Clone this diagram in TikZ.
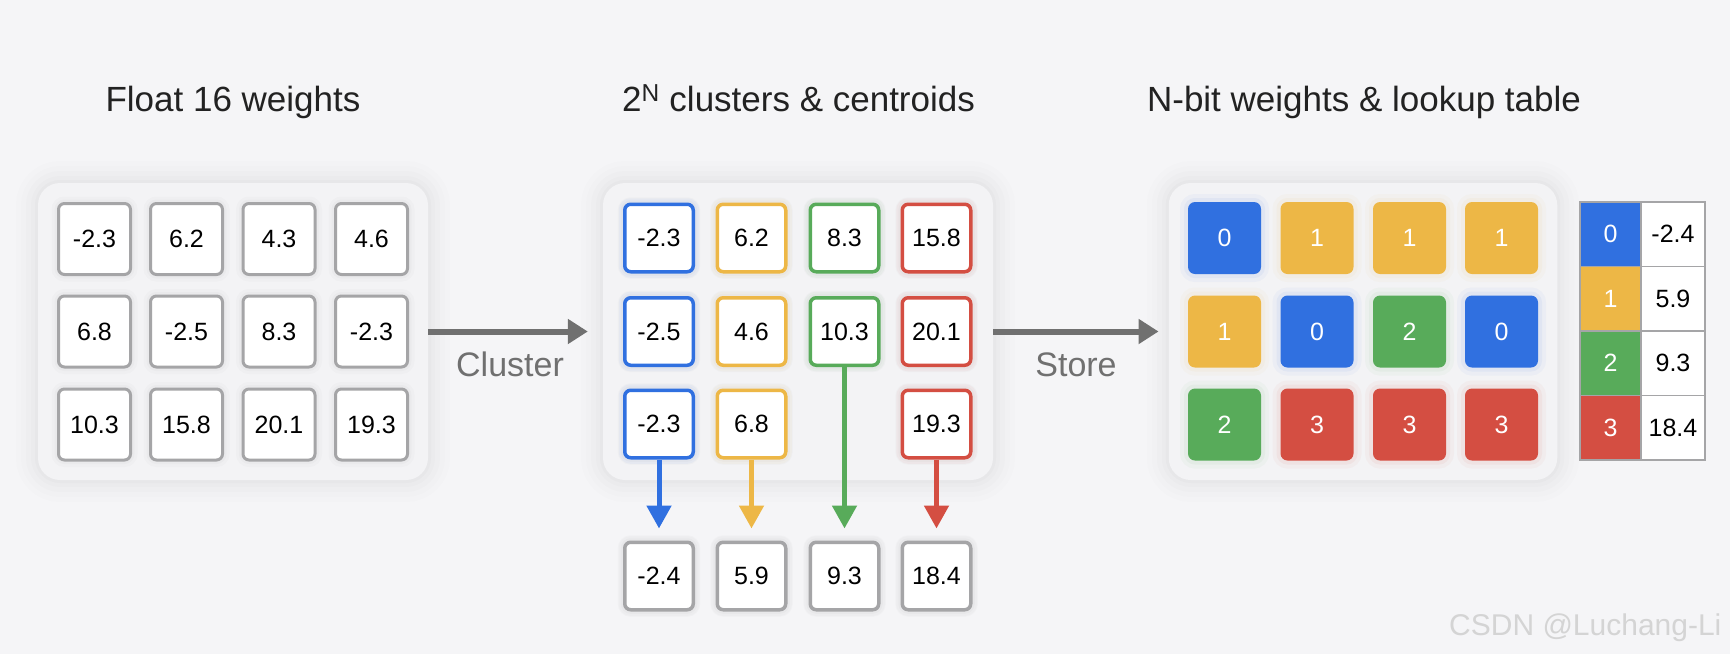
\documentclass[tikz,border=0pt]{standalone}
\usepackage{fontspec}
\setmainfont{Liberation Sans}
\usetikzlibrary{arrows.meta}
\definecolor{bgc}{HTML}{F5F5F7}
\definecolor{panelc}{HTML}{F3F3F5}
\definecolor{cellgray}{HTML}{A5A5A7}
\definecolor{arrowgray}{HTML}{707070}
\definecolor{textdark}{HTML}{222222}
\definecolor{kblue}{HTML}{3070E0}
\definecolor{kyellow}{HTML}{EDB746}
\definecolor{kgreen}{HTML}{58AB5A}
\definecolor{kred}{HTML}{D44E42}
\tikzset{
  heading/.style={anchor=base,text=textdark,font=\fontsize{35}{40}\selectfont},
  panel/.style={fill=panelc,rounded corners=22pt,inner sep=0pt,minimum height=297pt,
    preaction={draw=black,opacity=.008,line width=44pt},
    preaction={draw=black,opacity=.008,line width=34pt},
    preaction={draw=black,opacity=.01,line width=24pt},
    preaction={draw=black,opacity=.012,line width=14pt},
    preaction={draw=black,opacity=.014,line width=6pt}},
  wcell/.style={draw=cellgray,line width=3pt,fill=white,rounded corners=6pt,
    minimum width=72pt,minimum height=71pt,inner sep=0pt,text=black,
    font=\fontsize{25}{30}\selectfont,
    preaction={draw=black,opacity=.015,line width=14pt},
    preaction={draw=black,opacity=.02,line width=8pt}},
  ccell/.style={wcell,draw=#1,line width=3.5pt,minimum width=68.5pt,minimum height=67.5pt,
    preaction={draw=#1,opacity=.05,line width=12pt}},
  kcell/.style={ccell=cellgray},
  qcell/.style={fill=#1,text=white,rounded corners=7pt,minimum width=73pt,minimum height=72pt,
    inner sep=0pt,font=\fontsize{25}{30}\selectfont,
    preaction={draw=#1,opacity=.04,line width=16pt},
    preaction={draw=#1,opacity=.06,line width=8pt}},
  lidx/.style={fill=#1,draw=cellgray,line width=1.5pt,text=white,minimum width=61pt,
    minimum height=64.5pt,inner sep=0pt,font=\fontsize{25}{30}\selectfont},
  lval/.style={lidx=white,text=black,minimum width=64pt},
  flow/.style={draw=arrowgray,line width=6pt,-{Triangle[length=20pt,width=24pt]}},
  flowlabel/.style={anchor=base,text=arrowgray,font=\fontsize{34}{40}\selectfont},
  downarrow/.style={draw=#1,line width=5pt,shorten >=12pt,-{Triangle[length=23pt,width=24pt]}}
}
\begin{document}
\begin{tikzpicture}[x=1pt,y=-1pt]
\useasboundingbox (0,0) rectangle (1730,654);
\fill[bgc] (0,0) rectangle (1730,654);

\node[heading] (t1) at (233,111) {Float 16 weights};
\node[heading] (t2) at (798.5,111) {2\textsuperscript{N} clusters \& centroids};
\node[heading] (t3) at (1364,111) {N-bit weights \& lookup table};

\node[panel,minimum width=390pt] (fp) at (233,331.5) {};
\node[panel,minimum width=390pt] (cp) at (798,331.5) {};
\node[panel,minimum width=388.5pt] (qp) at (1363,331.5) {};

\node[wcell] (w11) at (94.5,239) {-2.3};
\node[wcell] (w12) at (186.5,239) {6.2};
\node[wcell] (w13) at (279,239) {4.3};
\node[wcell] (w14) at (371.5,239) {4.6};
\node[wcell] (w21) at (94.5,331.5) {6.8};
\node[wcell] (w22) at (186.5,331.5) {-2.5};
\node[wcell] (w23) at (279,331.5) {8.3};
\node[wcell] (w24) at (371.5,331.5) {-2.3};
\node[wcell] (w31) at (94.5,424.5) {10.3};
\node[wcell] (w32) at (186.5,424.5) {15.8};
\node[wcell] (w33) at (279,424.5) {20.1};
\node[wcell] (w34) at (371.5,424.5) {19.3};

\node[ccell=kblue] (c11) at (659,238) {-2.3};
\node[ccell=kyellow] (c12) at (751.5,238) {6.2};
\node[ccell=kgreen] (c13) at (844.5,238) {8.3};
\node[ccell=kred] (c14) at (936.5,238) {15.8};
\node[ccell=kblue] (c21) at (659,331.5) {-2.5};
\node[ccell=kyellow] (c22) at (751.5,331.5) {4.6};
\node[ccell=kgreen] (c23) at (844.5,331.5) {10.3};
\node[ccell=kred] (c24) at (936.5,331.5) {20.1};
\node[ccell=kblue] (c31) at (659,424) {-2.3};
\node[ccell=kyellow] (c32) at (751.5,424) {6.8};
\node[ccell=kred] (c34) at (936.5,424) {19.3};

\node[kcell] (k1) at (659,576) {-2.4};
\node[kcell] (k2) at (751.5,576) {5.9};
\node[kcell] (k3) at (844.5,576) {9.3};
\node[kcell] (k4) at (936.5,576) {18.4};

\draw[downarrow=kblue] (c31.south) -- (k1.north);
\draw[downarrow=kyellow] (c32.south) -- (k2.north);
\draw[downarrow=kgreen] (c23.south) -- (k3.north);
\draw[downarrow=kred] (c34.south) -- (k4.north);

\node[qcell=kblue] (q11) at (1224.5,238) {0};
\node[qcell=kyellow] (q12) at (1317,238) {1};
\node[qcell=kyellow] (q13) at (1409.5,238) {1};
\node[qcell=kyellow] (q14) at (1501.5,238) {1};
\node[qcell=kyellow] (q21) at (1224.5,331.5) {1};
\node[qcell=kblue] (q22) at (1317,331.5) {0};
\node[qcell=kgreen] (q23) at (1409.5,331.5) {2};
\node[qcell=kblue] (q24) at (1501.5,331.5) {0};
\node[qcell=kgreen] (q31) at (1224.5,424.5) {2};
\node[qcell=kred] (q32) at (1317,424.5) {3};
\node[qcell=kred] (q33) at (1409.5,424.5) {3};
\node[qcell=kred] (q34) at (1501.5,424.5) {3};

\node[lidx=kblue] (li0) at (1610.5,234.25) {0};
\node[lidx=kyellow] (li1) at (1610.5,298.75) {1};
\node[lidx=kgreen] (li2) at (1610.5,363.25) {2};
\node[lidx=kred] (li3) at (1610.5,427.75) {3};
\node[lval] (lv0) at (1673,234.25) {-2.4};
\node[lval] (lv1) at (1673,298.75) {5.9};
\node[lval] (lv2) at (1673,363.25) {9.3};
\node[lval] (lv3) at (1673,427.75) {18.4};

\draw[flow,shorten >=15pt] (fp.east) -- (cp.west);
\draw[flow,shorten >=10pt] (cp.east) -- (qp.west);
\node[flowlabel] (lcl) at (510,376) {Cluster};
\node[flowlabel] (lst) at (1076,376) {Store};

\node[anchor=base east,text=black!17,font=\fontsize{30}{36}\selectfont] (mark) at (1725,635) {CSDN @Luchang-Li};
\end{tikzpicture}
\end{document}
